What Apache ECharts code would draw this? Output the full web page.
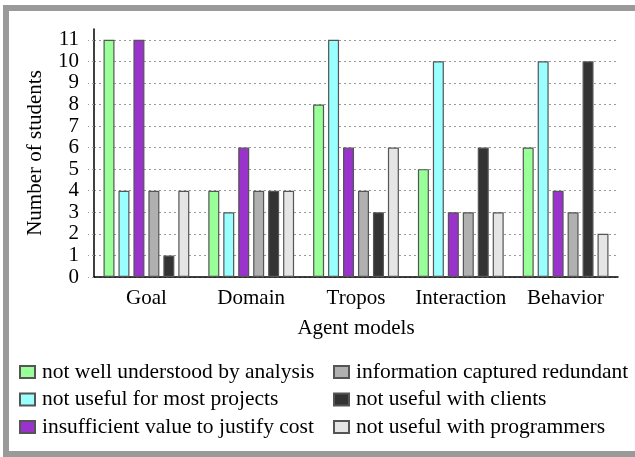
<!DOCTYPE html>
<html>
<head>
<meta charset="utf-8">
<script src="https://cdn.jsdelivr.net/npm/echarts@6/dist/echarts.min.js"></script>
<style>
html,body{margin:0;padding:0;background:#fff;overflow:hidden;}
#chart{position:absolute;left:0;top:0;width:635px;height:457px;}
#frame{position:absolute;left:3px;top:5px;width:650px;height:440px;border:6px solid #9a9a9a;pointer-events:none;}
</style>
</head>
<body>
<div id="chart"></div>
<div id="frame"></div>
<script>
var categories = ['Goal', 'Domain', 'Tropos', 'Interaction', 'Behavior'];
var seriesNames = [
  'not well understood by analysis',
  'not useful for most projects',
  'insufficient value to justify cost',
  'information captured redundant',
  'not useful with clients',
  'not useful with programmers'
];
var notWellUnderstood = [11, 4, 8, 5, 6];
var notUsefulProjects = [4, 3, 11, 10, 10];
var insufficientValue = [11, 6, 6, 3, 4];
var infoRedundant = [4, 4, 4, 3, 3];
var notUsefulClients = [1, 4, 3, 6, 10];
var notUsefulProgrammers = [4, 4, 6, 3, 2];
var yTicks = [0, 1, 2, 3, 4, 5, 6, 7, 8, 9, 10, 11];

var seriesData = [notWellUnderstood, notUsefulProjects, insufficientValue, infoRedundant, notUsefulClients, notUsefulProgrammers];
var colors = ['#99ff99', '#99ffff', '#9933cc', '#b0b0b0', '#333333', '#e5e5e5'];
var font = '"Liberation Serif", "Times New Roman", Times, serif';

var splitColors = yTicks.map(function () { return '#9a9a9a'; });
splitColors.push('rgba(0,0,0,0)');

var chart = echarts.init(document.getElementById('chart'));
var legendCommon = {
  orient: 'vertical',
  top: 361,
  padding: 0,
  itemWidth: 15,
  itemHeight: 12,
  itemGap: 5.5,
  icon: 'rect',
  selectedMode: false,
  textStyle: {fontFamily: font, fontSize: 21.5, color: '#000', padding: [0, 0, 0, 2]}
};
chart.setOption({
  animation: false,
  textStyle: {fontFamily: font},
  legend: [
    Object.assign({left: 19, data: seriesNames.slice(0, 3)}, legendCommon),
    Object.assign({left: 333, data: seriesNames.slice(3, 6)}, legendCommon)
  ],
  grid: {left: 94, right: 17, top: 29, bottom: 180},
  xAxis: {
    type: 'category',
    data: categories,
    name: 'Agent models',
    nameLocation: 'middle',
    nameGap: 41,
    nameTextStyle: {fontFamily: font, fontSize: 21, color: '#000'},
    axisLine: {lineStyle: {color: '#000', width: 1.5}},
    axisTick: {show: false},
    axisLabel: {fontFamily: font, fontSize: 21, color: '#000', margin: 11, interval: 0}
  },
  yAxis: {
    type: 'value',
    min: 0,
    max: 11.5,
    interval: 1,
    name: 'Number of students',
    nameLocation: 'middle',
    nameGap: 48,
    nameTextStyle: {fontFamily: font, fontSize: 21, color: '#000'},
    axisLine: {show: true, lineStyle: {color: '#000', width: 1.5}},
    axisTick: {show: true, length: 6, customValues: yTicks, lineStyle: {color: '#9a9a9a', type: [2, 3]}},
    axisLabel: {fontFamily: font, fontSize: 21, color: '#000', margin: 15, customValues: yTicks},
    splitLine: {show: true, lineStyle: {color: splitColors, type: [2, 3], width: 1}}
  },
  series: seriesData.map(function (d, i) {
    return {
      name: seriesNames[i],
      type: 'bar',
      data: d,
      barWidth: 11,
      barGap: '36%',
      itemStyle: {color: colors[i], borderColor: '#555', borderWidth: 1.2}
    };
  })
});
</script>
</body>
</html>
